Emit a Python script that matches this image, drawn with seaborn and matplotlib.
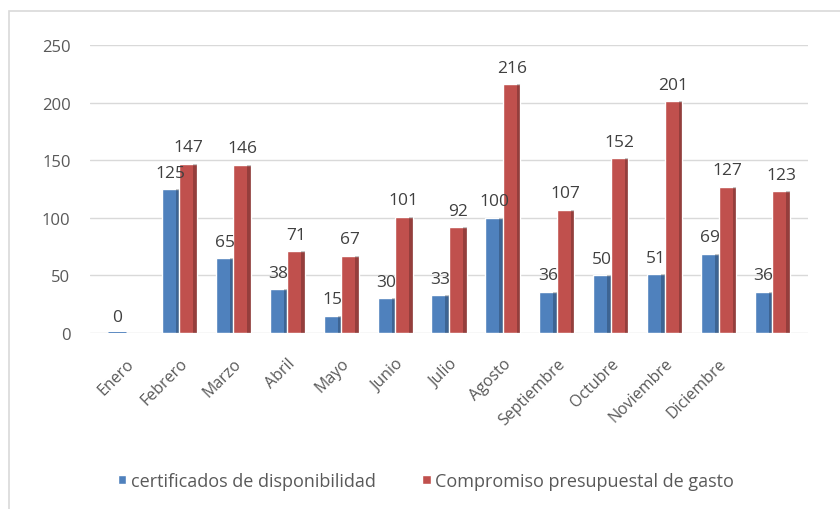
import matplotlib
matplotlib.use("Agg")
import matplotlib.pyplot as plt
import seaborn as sns
import pandas as pd
import numpy as np
from matplotlib.patches import Rectangle

meses = ["Enero", "Febrero", "Marzo", "Abril", "Mayo", "Junio", "Julio",
         "Agosto", "Septiembre", "Octubre", "Noviembre", "Diciembre", " "]
certificados = [0, 125, 65, 38, 15, 30, 33, 100, 36, 50, 51, 69, 36]
compromiso = [np.nan, 147, 146, 71, 67, 101, 92, 216, 107, 152, 201, 127, 123]
serie1 = "certificados de disponibilidad"
serie2 = "Compromiso presupuestal de gasto"

df = pd.DataFrame({
    "mes": meses * 2,
    "valor": certificados + compromiso,
    "serie": [serie1] * len(meses) + [serie2] * len(meses),
})

sns.set_theme(style="white")
plt.rcParams["font.family"] = ["Open Sans", "DejaVu Sans"]

fig = plt.figure(figsize=(8.4, 5.1), dpi=100)
ax = fig.add_axes([90 / 840, 1 - 334 / 510, (808 - 90) / 840, (334 - 46) / 510])

azul = "#4F81BD"
rojo = "#C0504D"
sns.barplot(data=df, x="mes", y="valor", hue="serie", order=meses,
            palette=[azul, rojo], width=0.65, ax=ax, legend=True, saturation=1)

ax.set_ylim(0, 250)
ax.set_xlim(-0.66, 12.66)
ax.set_yticks([0, 50, 100, 150, 200, 250])
ax.yaxis.grid(True, color="#d9d9d9", linewidth=1)
ax.set_axisbelow(True)
for s in ax.spines.values():
    s.set_visible(False)
ax.set_xlabel("")
ax.set_ylabel("")
ax.tick_params(axis="y", colors="#595959", labelsize=12, length=0, pad=14)
ax.tick_params(axis="x", colors="#595959", labelsize=11.5, length=0, pad=16)
plt.setp(ax.get_xticklabels(), rotation=45, ha="right", rotation_mode="anchor")

for cont in ax.containers:
    labels = ["" if np.isnan(v) else f"{int(v)}" for v in cont.datavalues]
    ax.bar_label(cont, labels=labels, padding=6, color="#404040", fontsize=12.5)
    for bar in cont:
        x, w, h = bar.get_x(), bar.get_width(), bar.get_height()
        if np.isnan(h):
            continue
        if h == 0:
            bar.set_edgecolor(bar.get_facecolor())
            bar.set_linewidth(2)
            continue
        ax.add_patch(Rectangle((x + w * 0.8, 0), w * 0.2, h,
                               facecolor="black", alpha=0.22, linewidth=0))

leg = ax.legend(loc="center", bbox_to_anchor=(426 / 840, 1 - 482 / 510),
                bbox_transform=fig.transFigure, ncol=2,
                frameon=False, fontsize=13, handlelength=0.45, handleheight=0.45,
                columnspacing=2.6, handletextpad=0.25)
for t in leg.get_texts():
    t.set_color("#595959")

fig.patches.append(Rectangle((9 / 840, -0.1), 1.2, 1 - 12 / 510 + 0.1,
                             transform=fig.transFigure, fill=False,
                             edgecolor="#d9d9d9", linewidth=1.2))

fig.savefig("out.png", dpi=100)
